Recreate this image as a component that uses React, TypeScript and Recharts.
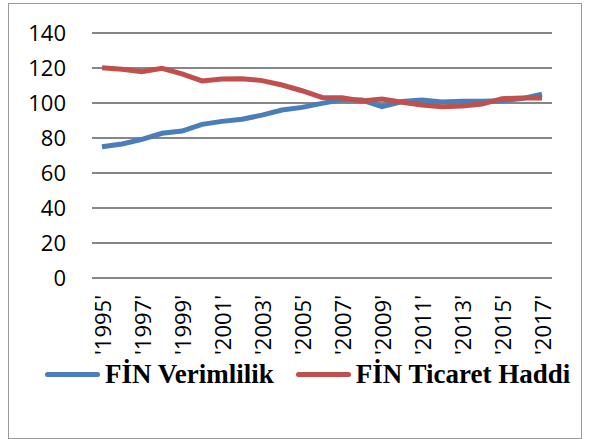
import { LineChart, Line, XAxis, YAxis, CartesianGrid, Legend } from "recharts";

const years = [
  "'1995'", "'1996'", "'1997'", "'1998'", "'1999'", "'2000'", "'2001'", "'2002'",
  "'2003'", "'2004'", "'2005'", "'2006'", "'2007'", "'2008'", "'2009'", "'2010'",
  "'2011'", "'2012'", "'2013'", "'2014'", "'2015'", "'2016'", "'2017'",
];

const verimlilik = [
  75, 76.6, 79.2, 82.7, 84, 87.8, 89.5, 90.7, 93.1, 96, 97.5, 99.8,
  102, 101.7, 97.9, 100.8, 101.7, 100.6, 101, 101, 101.3, 102.5, 105,
];

const ticaretHaddi = [
  120.2, 119.3, 117.9, 119.8, 116.6, 112.6, 113.7, 113.9, 112.8, 110.3, 107, 103.2,
  103, 101.1, 102.3, 100.4, 98.9, 97.9, 98.3, 99.4, 102.5, 102.9, 102.9,
];

const yTicks = [0, 20, 40, 60, 80, 100, 120, 140];

const BLUE = "#4a7ebb";
const RED = "#c0504d";

const data = years.map((year, i) => ({
  year,
  verimlilik: verimlilik[i],
  ticaret: ticaretHaddi[i],
}));

const YearTick = (props: any) => {
  const { x, y, payload } = props;
  return (
    <text
      x={x}
      y={y}
      transform={`rotate(-90, ${x}, ${y})`}
      textAnchor="end"
      dominantBaseline="central"
      fontFamily="Open Sans"
      fontSize={22}
      fill="#000"
    >
      {payload.value}
    </text>
  );
};

const legendItems = [
  { name: "FİN Verimlilik", color: BLUE },
  { name: "FİN Ticaret Haddi", color: RED },
];

const LegendBox = () => (
  <div
    style={{
      height: 34,
      display: "flex",
      alignItems: "center",
      paddingLeft: 45,
      fontFamily: "Liberation Serif",
      fontWeight: "bold",
      fontSize: 27,
      color: "#000",
    }}
  >
    {legendItems.map((item, i) => (
      <div key={item.name} style={{ display: "flex", alignItems: "center", marginRight: i === 0 ? 22 : 0 }}>
        <span
          style={{
            display: "inline-block",
            width: 55,
            height: 5,
            borderRadius: 3,
            background: item.color,
            marginRight: 5,
          }}
        />
        <span style={{ whiteSpace: "nowrap" }}>{item.name}</span>
      </div>
    ))}
  </div>
);

export default function App() {
  return (
    <div style={{ position: "absolute", left: 0, top: 0, width: 589, height: 439, background: "#fff" }}>
      <LineChart
        width={589}
        height={439}
        data={data}
        margin={{ top: 33, right: 37, bottom: 0, left: 0 }}
      >
        <CartesianGrid vertical={false} stroke="#868686" strokeWidth={2} />
        <XAxis
          dataKey="year"
          interval={1}
          axisLine={false}
          tickLine={false}
          tickSize={0}
          tickMargin={17}
          padding={{ left: 10, right: 10 }}
          height={127}
          tick={<YearTick />}
        />
        <YAxis
          domain={[0, 140]}
          ticks={yTicks}
          width={92}
          axisLine={false}
          tickLine={false}
          tickSize={0}
          tickMargin={26}
          tick={{ fill: "#000", fontSize: 22, fontFamily: "Open Sans" }}
        />
        <Legend
          verticalAlign="bottom"
          content={<LegendBox />}
          wrapperStyle={{ top: 357, left: 0, width: 589 }}
        />
        <Line
          type="linear"
          dataKey="verimlilik"
          name="FİN Verimlilik"
          stroke={BLUE}
          strokeWidth={5}
          dot={false}
          isAnimationActive={false}
        />
        <Line
          type="linear"
          dataKey="ticaret"
          name="FİN Ticaret Haddi"
          stroke={RED}
          strokeWidth={5}
          dot={false}
          isAnimationActive={false}
        />
      </LineChart>
      <div
        style={{
          position: "absolute",
          left: 8,
          top: 3,
          width: 574,
          height: 436,
          boxSizing: "border-box",
          border: "1px solid #9a9a9a",
          pointerEvents: "none",
        }}
      />
    </div>
  );
}
